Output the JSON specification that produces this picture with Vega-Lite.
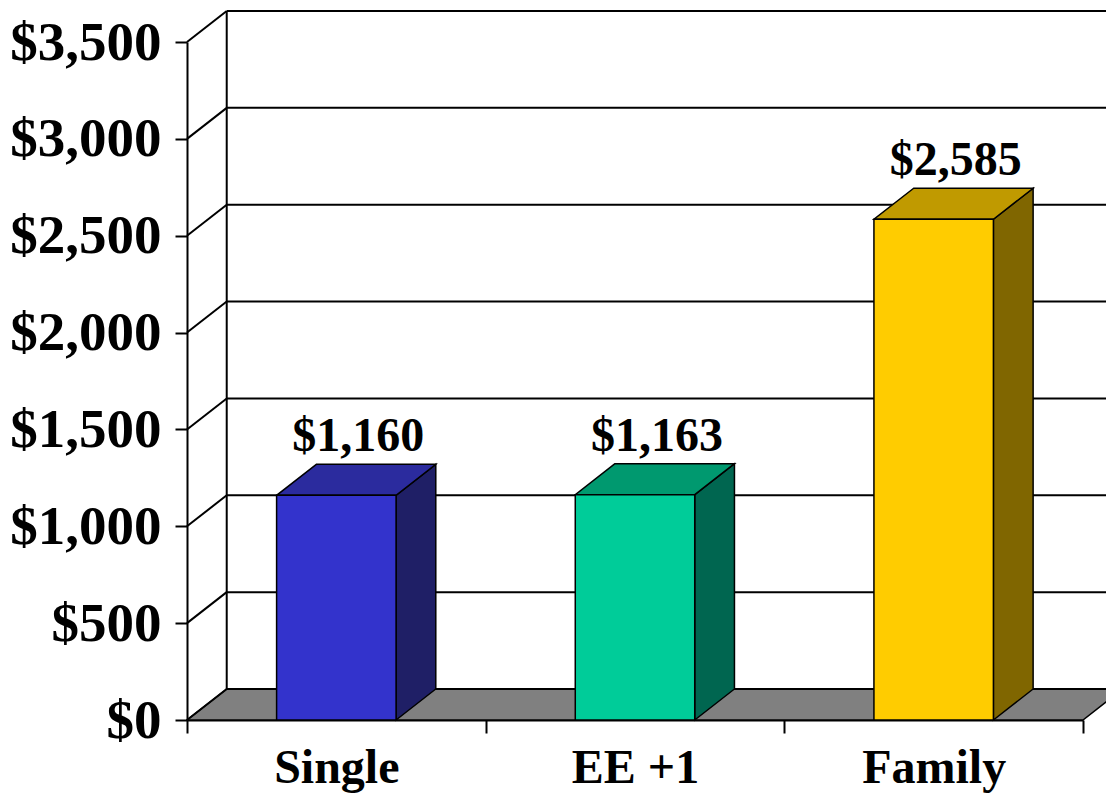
{
  "$schema": "https://vega.github.io/schema/vega-lite/v6.json",
  "width": 896,
  "height": 678,
  "autosize": {"type": "none"},
  "padding": {"left": 187, "top": 42, "right": 23, "bottom": 78},
  "background": "white",
  "config": {
    "view": {"stroke": null},
    "font": "Liberation Serif",
    "numberFormat": "$,.0f",
    "axisY": {
      "tickCount": 7,
      "grid": false,
      "domainColor": "black",
      "domainWidth": 2,
      "tickColor": "black",
      "tickWidth": 2,
      "tickSize": 12,
      "labelPadding": 14,
      "labelFont": "Liberation Serif",
      "labelFontSize": 55,
      "labelFontWeight": "bold",
      "labelColor": "black"
    },
    "axisX": {
      "grid": false,
      "domainColor": "black",
      "domainWidth": 2,
      "tickColor": "black",
      "tickWidth": 2,
      "tickSize": 13,
      "labelPadding": 11,
      "labelAngle": 0,
      "labelFont": "Liberation Serif",
      "labelFontSize": 48,
      "labelFontWeight": "bold",
      "labelColor": "black"
    }
  },
  "datasets": {
    "plans": [
      {"plan": "Single", "premium": 1160},
      {"plan": "EE +1", "premium": 1163},
      {"plan": "Family", "premium": 2585}
    ],
    "ticks": [
      {"v": 0}, {"v": 500}, {"v": 1000}, {"v": 1500},
      {"v": 2000}, {"v": 2500}, {"v": 3000}, {"v": 3500}
    ],
    "planes": [{"depth": 0}, {"depth": 1}]
  },
  "layer": [
    {
      "layer": [
        {
          "data": {"name": "planes"},
          "transform": [
            {"calculate": "datum.depth * 160", "as": "fy"},
            {"calculate": "datum.depth * 0.133", "as": "fx0"},
            {"calculate": "3 + datum.depth * 0.133", "as": "fx1"}
          ],
          "mark": {"type": "area", "orient": "horizontal", "fill": "#808080", "stroke": "black", "strokeWidth": 1.5},
          "encoding": {
            "y": {"field": "fy", "type": "quantitative", "scale": {"domain": [0, 3500], "nice": false}, "title": null},
            "x": {"field": "fx0", "type": "quantitative", "scale": {"domain": [0, 3], "nice": false, "zero": false}, "axis": null},
            "x2": {"field": "fx1"}
          }
        },
        {
          "data": {"name": "ticks"},
          "transform": [{"calculate": "datum.v + 160", "as": "yb"}],
          "mark": {"type": "rule", "color": "black", "strokeWidth": 2},
          "encoding": {
            "y": {"field": "yb", "type": "quantitative", "scale": {"domain": [0, 3500], "nice": false}, "title": null},
            "x": {"datum": 0.133, "type": "quantitative", "scale": {"domain": [0, 3], "nice": false, "zero": false}, "axis": null},
            "x2": {"datum": 3.3}
          }
        },
        {
          "data": {"name": "ticks"},
          "transform": [{"calculate": "datum.v + 160", "as": "yb"}],
          "mark": {"type": "rule", "color": "black", "strokeWidth": 2},
          "encoding": {
            "y": {"field": "v", "type": "quantitative", "scale": {"domain": [0, 3500], "nice": false}, "title": null},
            "y2": {"field": "yb"},
            "x": {"datum": 0, "type": "quantitative", "scale": {"domain": [0, 3], "nice": false, "zero": false}, "axis": null},
            "x2": {"datum": 0.133}
          }
        },
        {
          "data": {"name": "ticks"},
          "transform": [
            {"filter": "datum.v == 0"},
            {"calculate": "datum.v + 160", "as": "yb"}
          ],
          "mark": {"type": "rule", "color": "black", "strokeWidth": 2},
          "encoding": {
            "y": {"field": "yb", "type": "quantitative", "scale": {"domain": [0, 3500], "nice": false}, "title": null},
            "y2": {"datum": 3660},
            "x": {"datum": 0.133, "type": "quantitative", "scale": {"domain": [0, 3], "nice": false, "zero": false}, "axis": null}
          }
        },
        {
          "data": {"name": "plans"},
          "transform": [
            {"calculate": "indexof(['Single', 'EE +1', 'Family'], datum.plan)", "as": "slot"},
            {"calculate": "0", "as": "near"},
            {"calculate": "1", "as": "far"},
            {"fold": ["near", "far"], "as": ["face", "depth"]},
            {"calculate": "datum.slot + 0.7 + datum.depth * 0.133", "as": "sx"},
            {"calculate": "datum.depth * 160", "as": "sy0"},
            {"calculate": "datum.premium + datum.depth * 160", "as": "sy1"}
          ],
          "mark": {"type": "area", "orient": "vertical", "stroke": "black", "strokeWidth": 1.5, "fillOpacity": 1},
          "encoding": {
            "x": {"field": "sx", "type": "quantitative", "scale": {"domain": [0, 3], "nice": false, "zero": false}, "axis": null},
            "y": {"field": "sy0", "type": "quantitative", "scale": {"domain": [0, 3500], "nice": false}, "title": null},
            "y2": {"field": "sy1"},
            "detail": {"field": "plan"},
            "fill": {"field": "plan", "type": "nominal", "scale": {"domain": ["Single", "EE +1", "Family"], "range": ["#1F1F66", "#006650", "#806600"]}, "legend": null}
          }
        },
        {
          "data": {"name": "plans"},
          "transform": [
            {"calculate": "indexof(['Single', 'EE +1', 'Family'], datum.plan)", "as": "slot"},
            {"calculate": "0", "as": "near"},
            {"calculate": "1", "as": "far"},
            {"fold": ["near", "far"], "as": ["face", "depth"]},
            {"calculate": "datum.slot + 0.3 + datum.depth * 0.133", "as": "tx0"},
            {"calculate": "datum.slot + 0.7 + datum.depth * 0.133", "as": "tx1"},
            {"calculate": "datum.premium + datum.depth * 160", "as": "ty"}
          ],
          "mark": {"type": "area", "orient": "horizontal", "stroke": "black", "strokeWidth": 1.5, "fillOpacity": 1},
          "encoding": {
            "y": {"field": "ty", "type": "quantitative", "scale": {"domain": [0, 3500], "nice": false}, "title": null},
            "x": {"field": "tx0", "type": "quantitative", "scale": {"domain": [0, 3], "nice": false, "zero": false}, "axis": null},
            "x2": {"field": "tx1"},
            "detail": {"field": "plan"},
            "fill": {"field": "plan", "type": "nominal", "scale": {"domain": ["Single", "EE +1", "Family"], "range": ["#2B2B9E", "#00996F", "#C09A00"]}, "legend": null}
          }
        }
      ],
      "resolve": {"scale": {"fill": "independent"}}
    },
    {
      "data": {"name": "plans"},
      "transform": [{"calculate": "datum.premium + 160", "as": "topBack"}],
      "encoding": {
        "x": {
          "field": "plan",
          "type": "nominal",
          "sort": ["Single", "EE +1", "Family"],
          "scale": {"paddingInner": 0, "paddingOuter": 0},
          "axis": {"tickBand": "extent", "title": null}
        }
      },
      "layer": [
        {
          "mark": {"type": "bar", "width": {"band": 0.4}, "stroke": "black", "strokeWidth": 1.5},
          "encoding": {
            "y": {"field": "premium", "type": "quantitative", "scale": {"domain": [0, 3500], "nice": false}, "title": null},
            "fill": {"field": "plan", "type": "nominal", "scale": {"domain": ["Single", "EE +1", "Family"], "range": ["#3333CC", "#00CC99", "#FFCC00"]}, "legend": null}
          }
        },
        {
          "mark": {"type": "text", "font": "Liberation Serif", "fontSize": 48, "fontWeight": "bold", "color": "black", "baseline": "alphabetic", "dx": 22, "dy": -13},
          "encoding": {
            "y": {"field": "topBack", "type": "quantitative", "scale": {"domain": [0, 3500], "nice": false}, "title": null},
            "text": {"field": "premium", "type": "quantitative", "format": "$,.0f"}
          }
        }
      ]
    }
  ],
  "resolve": {"scale": {"x": "independent", "fill": "independent"}}
}
